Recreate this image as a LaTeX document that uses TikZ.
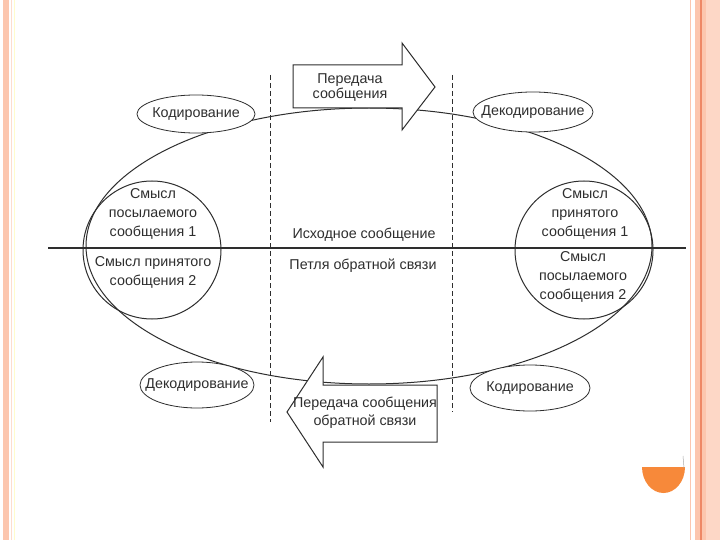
\documentclass[tikz,border=0pt]{standalone}
\usepackage{fontspec}
\setmainfont{Liberation Sans}
\usetikzlibrary{shapes.geometric}
\definecolor{ink}{HTML}{2E2E2E}
\definecolor{salmon}{HTML}{FCC6AE}
\definecolor{salmondk}{HTML}{EE8866}
\definecolor{orng}{HTML}{F7893A}
\begin{document}
\begin{tikzpicture}[x=1pt,y=-1pt,
  txt/.style={text=ink,font=\fontsize{14.3}{19}\selectfont,align=center,inner sep=0pt},
  oval/.style={ellipse,draw=ink,line width=0.8pt,fill=white,inner sep=0pt},
  ring/.style={draw=ink,line width=1pt},
  guide/.style={draw=ink,line width=1pt,dash pattern=on 5pt off 3pt},
  blockarrow/.style={draw=ink,line width=1pt,fill=white,line join=miter}]
\useasboundingbox (0,0) rectangle (720,540);
\fill[white] (0,0) rectangle (720,540);
% slide frame
\fill[salmon] (2.5,0) rectangle (9,540);
\draw[salmon!60,line width=1pt] (11.5,0) -- (11.5,540);
\draw[yellow!20,line width=0.8pt] (14,0) -- (14,540);
\draw[salmon,line width=1.2pt] (690.5,0) -- (690.5,540);
\fill[salmon] (695,0) rectangle (720,540);
\draw[salmondk,line width=1.3pt] (701,0) -- (701,540);
\fill[salmon!70] (706,0) rectangle (720,540);
% orange half disc
\fill[orng] (642,467) arc[start angle=180,end angle=360,x radius=21.5,y radius=-26] -- cycle;
\draw[ink!40,line width=0.5pt] (684,468) -- (683,456);
% big ellipse and axis
\draw[ring] (369,246) ellipse[x radius=283,y radius=138];
\draw[ink,line width=1.3pt] (48,248) -- (686,248);
% dashed guides
\coordinate (g1t) at (270,75); \coordinate (g1b) at (270,422);
\coordinate (g2t) at (452,75); \coordinate (g2b) at (452,412);
\draw[guide] (g1t) -- (g1b);
\draw[guide] (g2t) -- (g2b);
% circles
\node[circle,ring,minimum size=138pt,inner sep=0pt] (lc) at (152,250) {};
\node[circle,ring,minimum size=138pt,inner sep=0pt] (rc) at (584,250) {};
% small ovals
\node[oval,minimum width=118pt,minimum height=38pt] (enc1) at (196,114) {};
\node[txt] at (enc1) {Кодирование};
\node[oval,minimum width=120pt,minimum height=40pt] (dec1) at (533,112) {};
\node[txt] at (dec1) {Декодирование};
\node[oval,minimum width=114pt,minimum height=46pt] (dec2) at (197,385) {};
\node[txt] at (dec2) {Декодирование};
\node[oval,minimum width=120pt,minimum height=46pt] (enc2) at (530,388) {};
\node[txt] at (enc2) {Кодирование};
% block arrows
\draw[blockarrow] (293,65) -- (402,65) -- (402,43) -- (435,87) -- (402,130) -- (402,108) -- (293,108) -- cycle;
\node[txt,font=\fontsize{14.3}{15}\selectfont] (fwd) at (350,88) {Передача\\сообщения};
\draw[blockarrow] (437,385) -- (323,385) -- (323,357) -- (287,412) -- (323,467) -- (323,442) -- (437,442) -- cycle;
\node[txt,font=\fontsize{14.3}{18}\selectfont] (back) at (365,413) {Передача сообщения\\обратной связи};
% centre texts
\node[txt] (src) at (364,235) {Исходное сообщение};
\node[txt] (loop) at (363,266) {Петля обратной связи};
% circle texts
\node[txt] (l1) at (153,214) {Смысл\\посылаемого\\сообщения 1};
\node[txt] (l2) at (153,272) {Смысл принятого\\сообщения 2};
\node[txt] (r1) at (585,214) {Смысл\\принятого\\сообщения 1};
\node[txt] (r2) at (583,277) {Смысл\\посылаемого\\сообщения 2};
\end{tikzpicture}
\end{document}
